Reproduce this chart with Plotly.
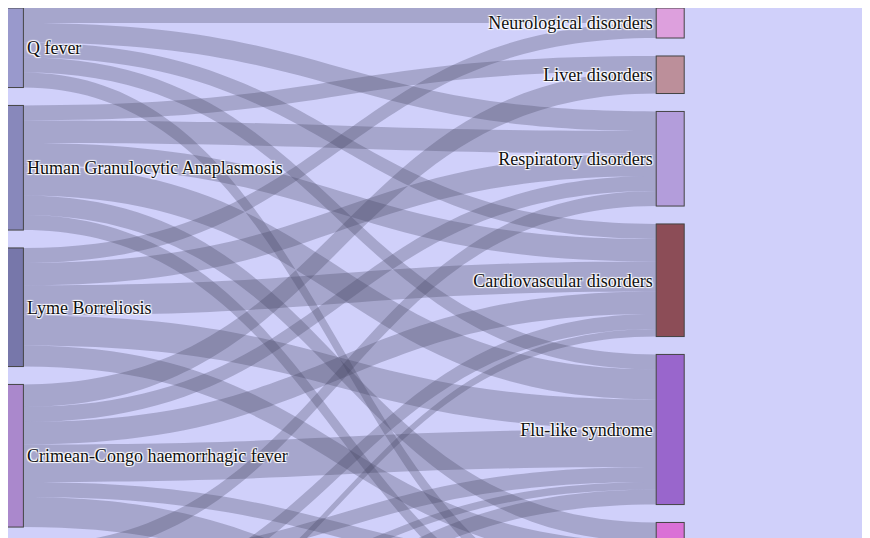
import plotly.graph_objects as go

# nodes: diseases (left) then syndromes (right)
labels = ["Q fever", "Human Granulocytic Anaplasmosis", "Lyme Borreliosis",
          "Crimean-Congo haemorrhagic fever", "Tick-borne encephalitis", "Babesiosis",
          "Rocky Mountain spotted fever",
          "Neurological disorders", "Liver disorders", "Respiratory disorders",
          "Cardiovascular disorders", "Flu-like syndrome", "Skin disorders",
          "Gastrointestinal disorders"]
node_colors = ["#9999cc", "#8888bb", "#7777aa", "#aa88cc", "#8f8fc0", "#9a8ac4", "#a0a0d0",
               "#dda0dd", "#bc8f9a", "#b39ddb", "#8c4d57", "#9966cc", "#da70d6", "#c06090"]

source = [0, 0, 0, 0, 0,
          1, 1, 1, 1, 1, 1,
          2, 2, 2, 2, 2,
          3, 3, 3, 3, 3, 3,
          4, 4, 4,
          5, 5, 5,
          6, 6, 6]
target = [7, 9, 10, 11, 13,
          8, 9, 10, 11, 12, 13,
          7, 9, 10, 11, 12,
          8, 9, 10, 11, 12, 13,
          9, 11, 13,
          10, 11, 13,
          10, 11, 12]
value = [1, 1.3, 1, 1, 1,
         1, 1.5, 1.5, 2, 1.3, 1,
         1, 1.5, 2, 2, 1.4,
         1.5, 1, 1.5, 2.5, 1, 2,
         1, 1, 1,
         1, 0.5, 1,
         0.5, 1, 1.3]

W, H, PAD, K = 1400, 698, 18, 15.0

def centers(ids):
    tot = [sum(v for s, t, v in zip(source, target, value) if s == i or t == i) for i in ids]
    ys, top = [], 0.0
    for t in tot:
        h = t * K
        ys.append((top + h / 2) / H)
        top += h + PAD
    return ys

node_x = [0.001] * 7 + [0.473] * 7
node_y = centers(range(7)) + centers(range(7, 14))

fig = go.Figure(go.Sankey(
    arrangement="fixed",
    node=dict(label=labels, color=node_colors, pad=PAD, thickness=28,
              x=node_x, y=node_y, line=dict(color="#444", width=1)),
    link=dict(source=source, target=target, value=value,
              color="rgba(70,70,100,0.3)"),
    textfont=dict(family="Liberation Serif", size=18, color="#111"),
))

fig.update_layout(width=W, height=H, margin=dict(l=0, r=0, t=0, b=0),
                  paper_bgcolor="#d0d0fa", plot_bgcolor="#d0d0fa")

fig.write_html("out.html")
